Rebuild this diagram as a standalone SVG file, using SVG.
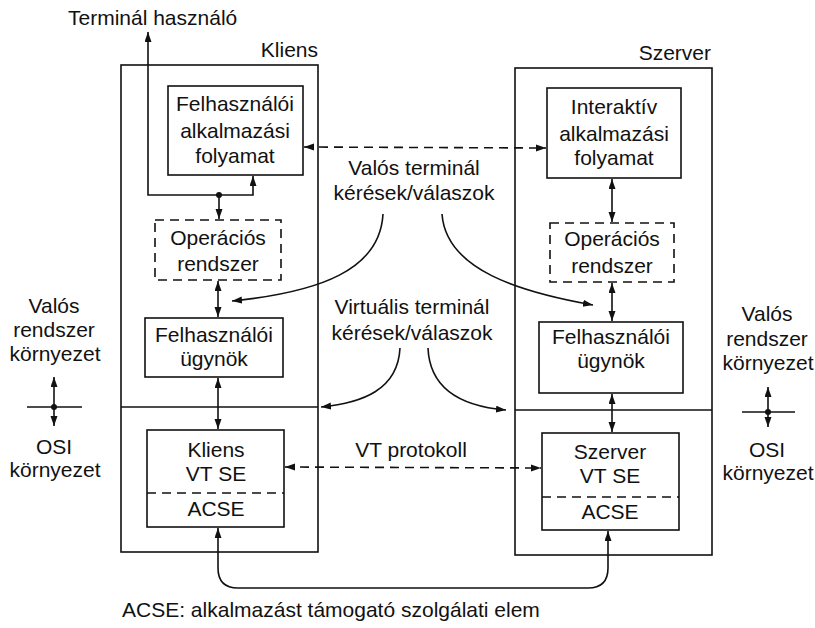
<svg xmlns="http://www.w3.org/2000/svg" width="815" height="628" viewBox="0 0 815 628">
<style>
text{font-family:"Liberation Sans",Arial,sans-serif;font-size:21px;fill:#111}
.c{text-anchor:middle}
.box{fill:none;stroke:#111;stroke-width:1.6}
.dbox{fill:none;stroke:#111;stroke-width:1.6;stroke-dasharray:9 6}
.ln{fill:none;stroke:#111;stroke-width:1.6}
.dl{fill:none;stroke:#111;stroke-width:1.6;stroke-dasharray:9 6}
.a2{marker-start:url(#ah);marker-end:url(#ah)}
.a1{marker-end:url(#ah)}
</style>
<defs>
<marker id="ah" markerUnits="userSpaceOnUse" markerWidth="11" markerHeight="8" refX="10" refY="3.5" orient="auto-start-reverse">
<path d="M0,0 L10,3.5 L0,7 z" fill="#111"/>
</marker>
</defs>
<rect width="815" height="628" fill="#fff"/>

<g id="kliens">
<rect class="box" x="121" y="65" width="197" height="487"/>
<line class="ln" x1="121" y1="407" x2="318" y2="407"/>
<text x="318" y="57" text-anchor="end">Kliens</text>
</g>
<g id="szerver">
<rect class="box" x="515" y="68" width="197" height="487"/>
<line class="ln" x1="515" y1="410" x2="712" y2="410"/>
<text x="711" y="60" text-anchor="end">Szerver</text>
</g>

<g id="kliens-app">
<rect class="box" x="168" y="86" width="135" height="89"/>
<text class="c" x="235" y="111">Felhasználói</text>
<text class="c" x="235" y="138">alkalmazási</text>
<text class="c" x="235" y="163">folyamat</text>
</g>
<g id="kliens-os">
<rect class="dbox" x="155" y="220" width="126" height="60"/>
<text class="c" x="218" y="245">Operációs</text>
<text class="c" x="218" y="271">rendszer</text>
</g>
<g id="kliens-ugynok">
<rect class="box" x="145" y="318" width="138" height="59"/>
<text class="c" x="214" y="342">Felhasználói</text>
<text class="c" x="214" y="366">ügynök</text>
</g>
<g id="kliens-vtse">
<rect class="box" x="147" y="430" width="137" height="97"/>
<line class="dl" x1="147" y1="493" x2="284" y2="493"/>
<text class="c" x="216" y="457">Kliens</text>
<text class="c" x="216" y="481">VT SE</text>
<text class="c" x="216" y="516">ACSE</text>
</g>

<g id="szerver-app">
<rect class="box" x="547" y="88" width="134" height="90"/>
<text class="c" x="614" y="114">Interaktív</text>
<text class="c" x="614" y="141">alkalmazási</text>
<text class="c" x="614" y="165">folyamat</text>
</g>
<g id="szerver-os">
<rect class="dbox" x="550" y="223" width="124" height="59"/>
<text class="c" x="612" y="246">Operációs</text>
<text class="c" x="612" y="273">rendszer</text>
</g>
<g id="szerver-ugynok">
<rect class="box" x="539" y="322" width="144" height="71"/>
<text class="c" x="611" y="344">Felhasználói</text>
<text class="c" x="611" y="368">ügynök</text>
</g>
<g id="szerver-vtse">
<rect class="box" x="542" y="433" width="137" height="97"/>
<line class="dl" x1="542" y1="497" x2="679" y2="497"/>
<text class="c" x="610" y="459">Szerver</text>
<text class="c" x="610" y="483">VT SE</text>
<text class="c" x="610" y="519">ACSE</text>
</g>

<g id="labels">
<text x="68" y="25">Terminál használó</text>
<text class="c" x="54" y="313">Valós</text>
<text class="c" x="54" y="337">rendszer</text>
<text class="c" x="55" y="361">környezet</text>
<text class="c" x="54" y="454">OSI</text>
<text class="c" x="55" y="477">környezet</text>
<text class="c" x="767" y="321">Valós</text>
<text class="c" x="767" y="346">rendszer</text>
<text class="c" x="768" y="370">környezet</text>
<text class="c" x="767" y="457">OSI</text>
<text class="c" x="768" y="480">környezet</text>
<text class="c" x="414" y="175">Valós terminál</text>
<text class="c" x="414" y="200">kérések/válaszok</text>
<text class="c" x="412" y="314">Virtuális terminál</text>
<text class="c" x="412" y="340">kérések/válaszok</text>
<text class="c" x="411" y="457">VT protokoll</text>
<text x="122" y="617">ACSE: alkalmazást támogató szolgálati elem</text>
</g>

<g id="connectors">
<path class="ln a2" d="M148,32 V195 H253 V176"/>
<circle cx="219" cy="195" r="3" fill="#111"/>
<path class="ln a1" d="M219,195 V219"/>
<path class="ln a2" d="M218,281 V317"/>
<path class="ln a2" d="M218,378 V429"/>
<path class="ln a2" d="M218,528 V568 Q218,588 238,588 H588 Q608,588 608,568 V531"/>
<path class="ln a2" d="M612,179 V222"/>
<path class="ln a2" d="M612,283 V321"/>
<path class="ln a2" d="M612,394 V432"/>
<path class="dl a2" d="M304,147 L546,148"/>
<path class="dl a2" d="M285,467 L541,468"/>
<path class="ln a1" d="M383,214 C380,270 320,292 232,301"/>
<path class="ln a1" d="M442,214 C446,270 520,292 593,305"/>
<path class="ln a1" d="M400,348 C398,390 362,403 321,407"/>
<path class="ln a1" d="M428,348 C430,395 470,407 506,410"/>
<line class="ln" x1="27" y1="407" x2="82" y2="407"/>
<path class="ln a2" d="M54,377 V426"/>
<circle cx="54" cy="407" r="3" fill="#111"/>
<line class="ln" x1="742" y1="412" x2="795" y2="412"/>
<path class="ln a2" d="M768,387 V427"/>
<circle cx="768" cy="412" r="3" fill="#111"/>
</g>
</svg>
